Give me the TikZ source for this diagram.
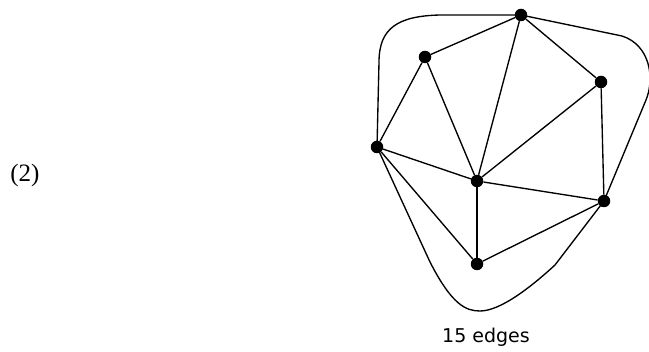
\documentclass[tikz,border=0pt]{standalone}
\usepackage{fontspec}
\setmainfont{Liberation Serif}
\newfontfamily\labelfont{DejaVu Sans}
\begin{document}
\begin{tikzpicture}[x=1pt,y=-1pt,
  vtx/.style={circle,fill=black,inner sep=0pt,minimum size=12.5pt},
  edge/.style={line width=1.35pt,black},
  lbl/.style={inner sep=0pt}]
\useasboundingbox (0,0) rectangle (649,352);
\node[vtx] (T) at (521,15) {};
\node[vtx] (A) at (425,57) {};
\node[vtx] (B) at (601,82) {};
\node[vtx] (L) at (377,147) {};
\node[vtx] (C) at (477,181) {};
\node[vtx] (R) at (604,201) {};
\node[vtx] (D) at (477,264) {};
\draw[edge] (T) -- (A);
\draw[edge] (T) -- (C);
\draw[edge] (T) -- (B);
\draw[edge] (A) -- (L);
\draw[edge] (A) -- (C);
\draw[edge] (L) -- (C);
\draw[edge] (B) -- (C);
\draw[edge] (B) -- (R);
\draw[edge] (C) -- (R);
\draw[edge] (C) -- (D);
\draw[edge] (L) -- (D);
\draw[edge] (D) -- (R);
\draw[edge] (L.center) -- (379,62) .. controls (379,28) and (398,16) .. (440,15) -- (T.center);
\draw[edge] (T.center) -- (622,36) .. controls (650,45) and (655,78) .. (646,100) -- (R.center);
\draw[edge] (L.center) -- (430,262) .. controls (452,305) and (466,311) .. (480,311) .. controls (500,311) and (530,288) .. (555,265) -- (R.center);
\node[lbl,font=\fontsize{25}{28}\selectfont] (lab) at (25,175) {(2)};
\node[lbl,font=\labelfont\fontsize{19}{22}\selectfont] (cap) at (486,337) {15 edges};
\end{tikzpicture}
\end{document}
